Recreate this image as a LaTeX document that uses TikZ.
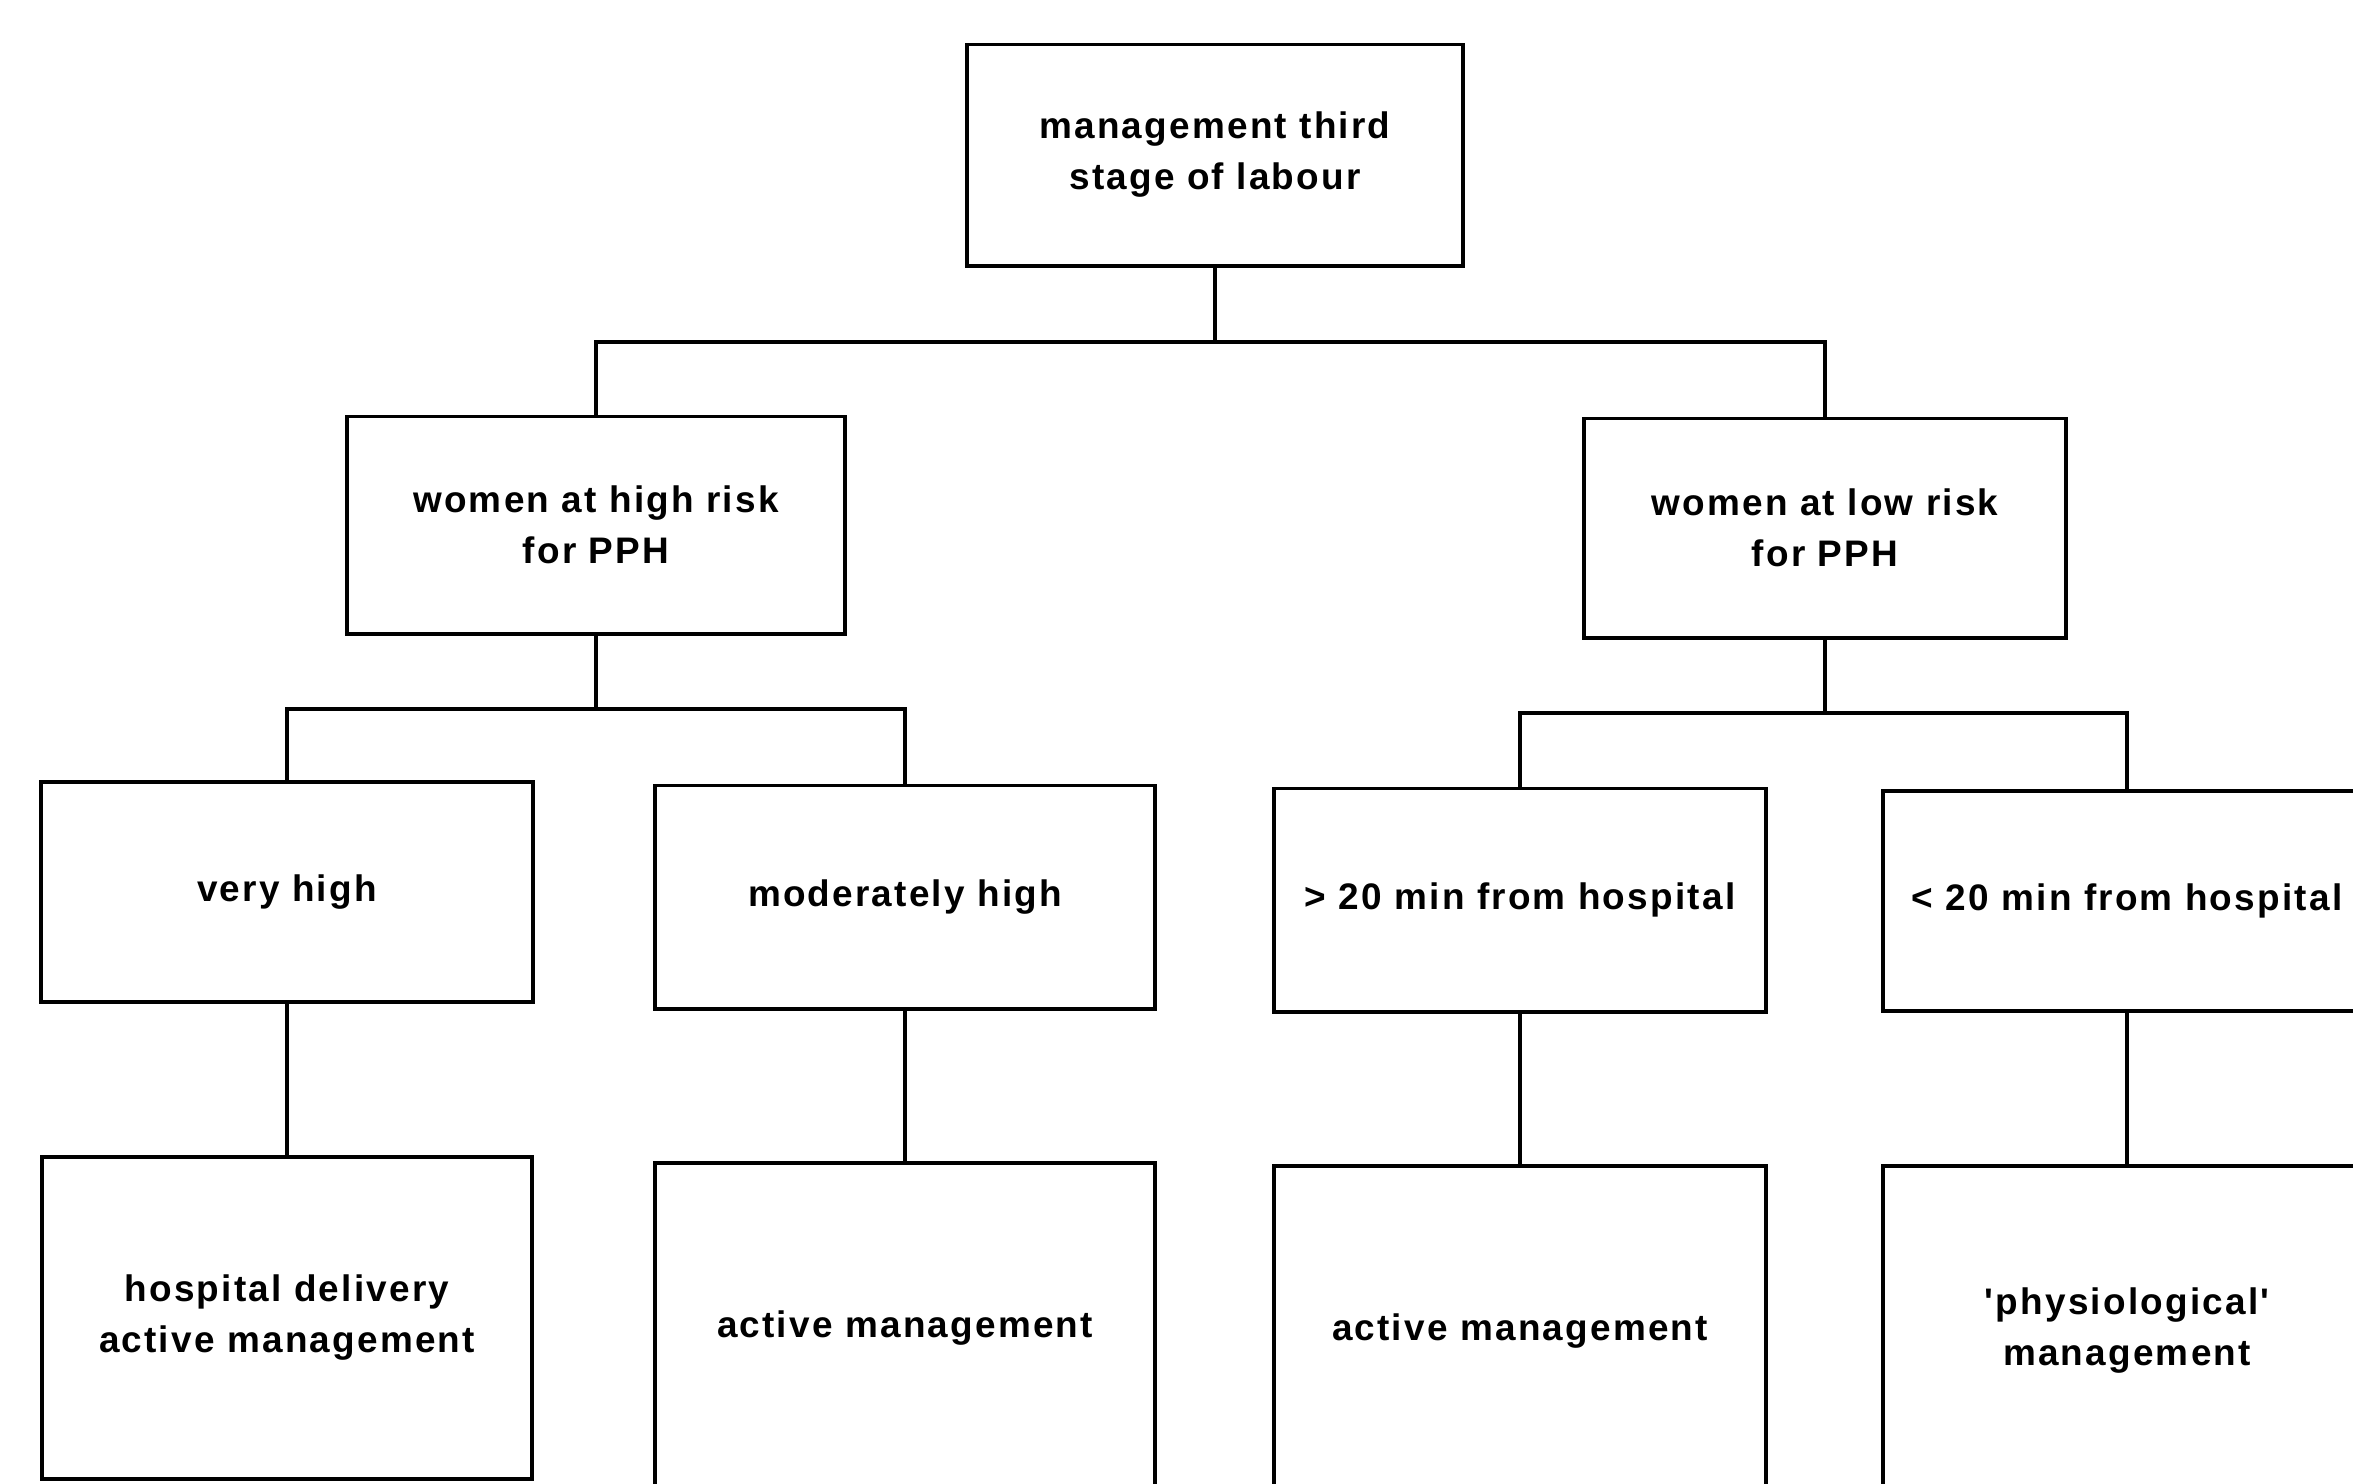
\documentclass[tikz,border=0pt]{standalone}
\usepackage{fontspec}
\newfontfamily\boxfont[LetterSpace=6]{Liberation Sans Bold}
\begin{document}
\begin{tikzpicture}[x=0.01cm,y=-0.01cm,inner sep=0pt,outer sep=0pt,line width=1.1pt,
stagebox/.style={draw,rectangle,align=center,font=\boxfont\fontsize{10.5}{14.5}\selectfont,line width=1.1pt}]
\useasboundingbox (0,0) rectangle (2353,1484);
\clip (0,0) rectangle (2353,1484);
% top of the tree
\draw (1215,155) node[stagebox,minimum width=4.95cm,minimum height=2.21cm] (top) {management third\\stage of labour};
% risk groups
\draw (596,525) node[stagebox,minimum width=4.97cm,minimum height=2.17cm] (high) {women at high risk\\for PPH};
\draw (1825,528) node[stagebox,minimum width=4.81cm,minimum height=2.19cm] (low) {women at low risk\\for PPH};
% subgroups
\draw (287,892) node[stagebox,minimum width=4.91cm,minimum height=2.2cm] (vhigh) {very high};
\draw (905,897) node[stagebox,minimum width=4.99cm,minimum height=2.23cm] (modhigh) {moderately high};
\draw (1520,900) node[stagebox,minimum width=4.91cm,minimum height=2.23cm] (far) {> 20 min from hospital};
\draw (2127,901) node[stagebox,minimum width=4.88cm,minimum height=2.2cm] (near) {< 20 min from hospital};
% management, boxes run off the page
\draw (287,1318) node[stagebox,minimum width=4.89cm,minimum height=3.22cm] (hospact) {hospital delivery\\active management};
\draw (905,1328) node[stagebox,minimum width=4.99cm,minimum height=3.3cm] (modact) {active management};
\draw (1520,1331) node[stagebox,minimum width=4.91cm,minimum height=3.3cm] (faract) {active management};
\draw (2127,1331) node[stagebox,minimum width=4.88cm,minimum height=3.3cm] (physio) {'physiological'\\management};
% connectors
\draw (top.south) -- ++(0,76) -| (high.north);
\draw (top.south) -- ++(0,76) -| (low.north);
\draw (high.south) -- ++(0,75) -| (vhigh.north);
\draw (high.south) -- ++(0,75) -| (modhigh.north);
\draw (low.south) -- ++(0,75) -| (far.north);
\draw (low.south) -- ++(0,75) -| (near.north);
\draw (vhigh.south) -- (hospact.north);
\draw (modhigh.south) -- (modact.north);
\draw (far.south) -- (faract.north);
\draw (near.south) -- (physio.north);
\end{tikzpicture}
\end{document}
